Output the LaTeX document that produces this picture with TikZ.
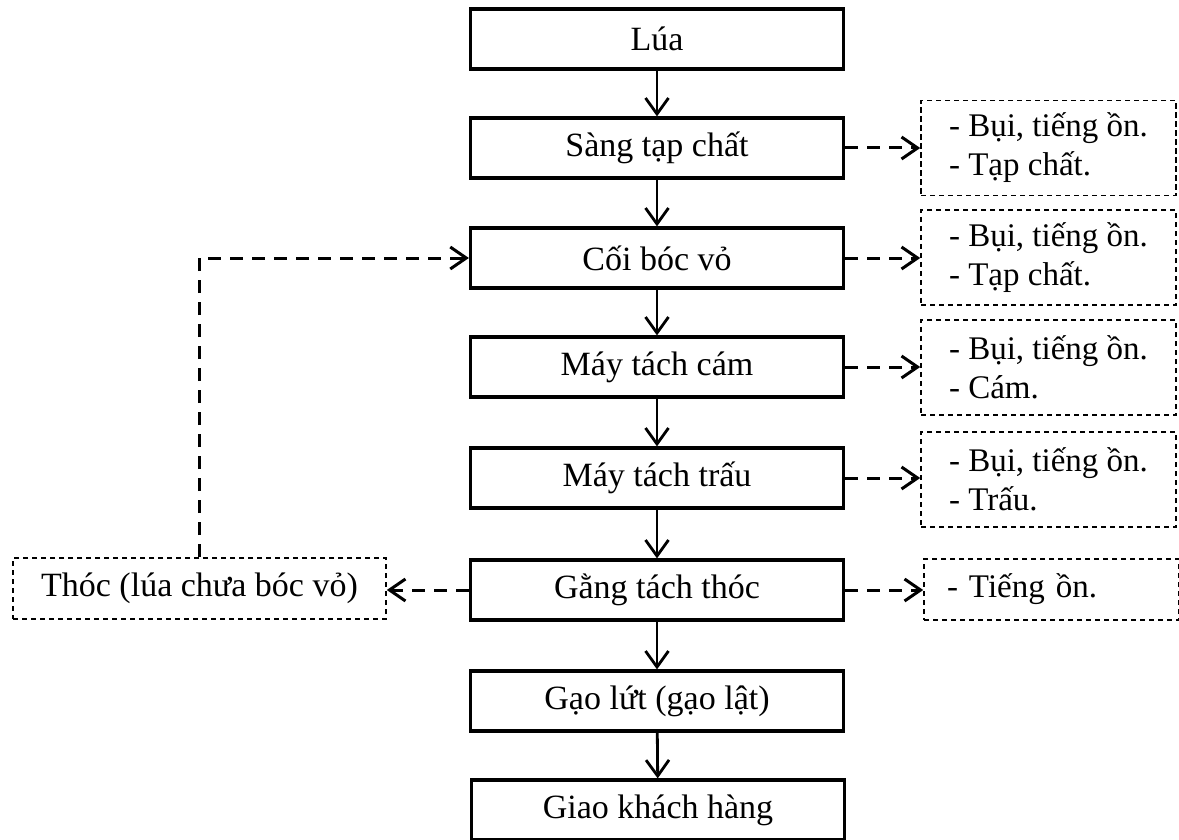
\documentclass[tikz,border=0pt]{standalone}
\usepackage{fontspec}
\setmainfont{Liberation Serif}
\usepackage{tikz}
\usetikzlibrary{calc,positioning,arrows.meta}

\begin{document}
\begin{tikzpicture}[x=0.5pt, y=-0.5pt,
  flow/.style={line width=1.4pt, -{Straight Barb[length=8pt, width=11.5pt, line width=1.4pt]}},
  side/.style={line width=1.5pt, dash pattern=on 6.5pt off 4.5pt, -{Straight Barb[length=8pt, width=11pt, line width=1.5pt]}},
  note/.style={draw, line width=0.8pt, dash pattern=on 2.6pt off 1.9pt, minimum width=127.5pt, minimum height=47.5pt, inner xsep=0pt, align=left, font=\fontsize{16.5}{19.5}\selectfont}]
\tikzstyle{blk}=[draw, line width=1.6pt, minimum width=186.5pt, minimum height=30pt, inner sep=0pt, font=\fontsize{17}{20}\selectfont]
\useasboundingbox (0,0) rectangle (1179,840);
% main line
\node[blk] (lua) at (657,39) {Lúa};
\node[blk] (sang) at (657,148) {Sàng tạp chất};
\node[blk] (coi) at (657,258) {Cối bóc vỏ};
\node[blk] (cam) at (657,367) {Máy tách cám};
\node[blk] (trau) at (657,478) {Máy tách trấu};
\node[blk] (gang) at (657,590) {Gằng tách thóc};
\node[blk] (gao) at (657,701) {Gạo lứt (gạo lật)};
\node[blk] (giao) at (658,810) {Giao khách hàng};
% waste
\node[note] (r1) at (1048.5,148) {- Bụi, tiếng ồn.\\- Tạp chất.};
\node[note] (r2) at (1048.5,257.5) {- Bụi, tiếng ồn.\\- Tạp chất.};
\node[note] (r3) at (1048.5,367.5) {- Bụi, tiếng ồn.\\- Cám.};
\node[note] (r4) at (1048.5,479.5) {- Bụi, tiếng ồn.\\- Trấu.};
\node[note, minimum height=30.5pt, text width=104.5pt, inner xsep=11pt] (r5) at (1051.5,589.5) {- Tiếng ồn.};
\node[note, minimum width=186.5pt, minimum height=30.5pt, align=center, font=\fontsize{17}{20}\selectfont] (thoc) at (199.5,588.5) {Thóc (lúa chưa bóc vỏ)};
\foreach \i/\j in {lua/sang,sang/coi,coi/cam,cam/trau,trau/gang,gang/gao,gao/giao}{\draw[flow] (\i) -- (\j);}
\foreach \i/\j in {sang/r1,coi/r2,cam/r3,trau/r4,gang/r5}{\draw[side] (\i.east) -- (\i.east -| \j.west);}
\draw[side] (gang.west) -- (gang.west -| thoc.east);
\draw[side] (thoc.north) |- (coi.west);
\end{tikzpicture}
\end{document}
